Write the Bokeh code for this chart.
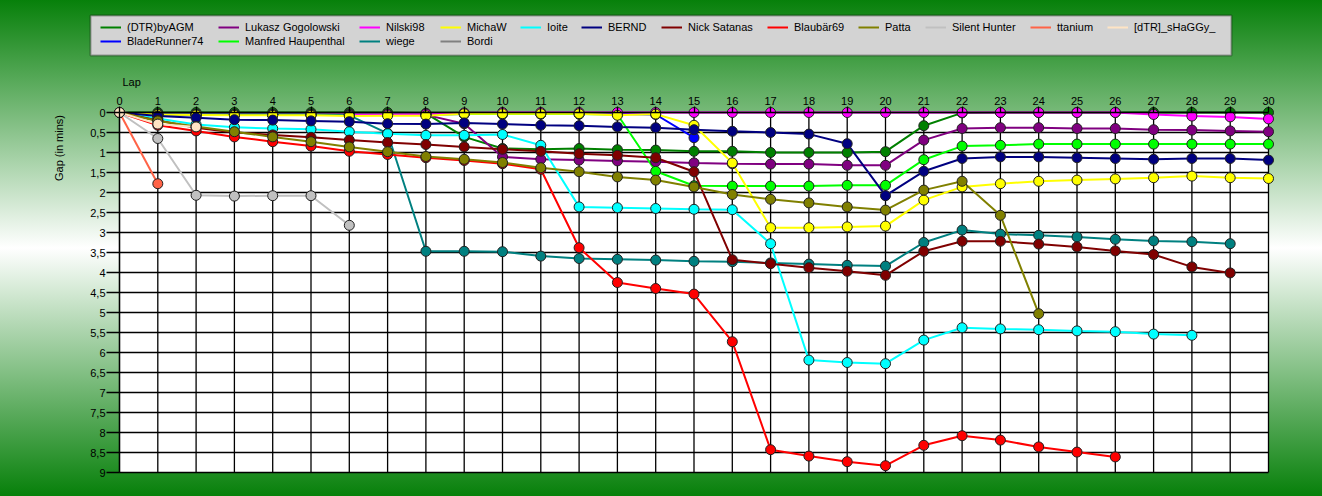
import math
from bokeh.plotting import figure
from bokeh.models import Range1d, FixedTicker, Legend, LegendItem, BoxAnnotation, Label
from bokeh.embed import file_html
from bokeh.resources import INLINE

# ---------------- data ----------------
laps = list(range(0, 31))

names = ["(DTR)byAGM", "Lukasz Gogolowski", "Nilski98", "MichaW", "Ioite", "BERND",
         "Nick Satanas", "Blaubär69", "Patta", "Silent Hunter", "ttanium", "[dTR]_sHaGGy_",
         "BladeRunner74", "Manfred Haupenthal", "wiege", "Bordi"]

colors = ["#008000", "#800080", "#ff00ff", "#ffff00", "#00ffff", "#000080",
          "#800000", "#ff0000", "#808000", "#c0c0c0", "#ff6347", "#ffe4c4",
          "#0000ff", "#00ff00", "#008080", "#808080"]

dtr_byagm = [0, 0, 0, 0, 0, 0, 0, 0, 0.02, 0.61, 0.9, 0.92, 0.9, 0.93, 0.94, 0.97,
             0.97, 1.0, 1.0, 1.0, 0.98, 0.33, 0.01, 0, 0, 0, 0, 0, 0, 0, 0]
lukasz = [0, 0.05, 0.05, 0.05, 0.05, 0.05, 0.05, 0.05, 0.06, 0.28, 1.11, 1.17, 1.19, 1.21,
          1.23, 1.26, 1.28, 1.29, 1.29, 1.32, 1.32, 0.69, 0.4, 0.38, 0.38, 0.4, 0.4, 0.43,
          0.44, 0.46, 0.48]
nilski = [0, 0.05, 0.05, 0.05, 0.05, 0.05, 0.05, 0.05, 0.04, 0.01, 0, 0, 0, 0, 0, 0, 0, 0,
          0, 0, 0, 0, 0, 0, 0, 0, 0, 0.05, 0.09, 0.11, 0.16]
michaw = [0, 0.05, 0.06, 0.07, 0.07, 0.07, 0.09, 0.08, 0.08, 0.03, 0.03, 0.03, 0.03, 0.07,
          0.04, 0.32, 1.26, 2.88, 2.88, 2.86, 2.84, 2.19, 1.86, 1.78, 1.72, 1.69, 1.66, 1.63,
          1.59, 1.63, 1.65]
ioite = [0, 0.15, 0.3, 0.37, 0.4, 0.42, 0.48, 0.53, 0.57, 0.57, 0.55, 0.82, 2.36, 2.38, 2.4,
         2.42, 2.43, 3.28, 6.19, 6.25, 6.28, 5.69, 5.38, 5.41, 5.43, 5.46, 5.48, 5.54, 5.57]
bernd = [0, 0.09, 0.13, 0.18, 0.19, 0.21, 0.23, 0.28, 0.29, 0.26, 0.29, 0.32, 0.33, 0.36,
         0.38, 0.43, 0.47, 0.5, 0.54, 0.78, 2.08, 1.47, 1.15, 1.11, 1.11, 1.13, 1.15, 1.17,
         1.15, 1.15, 1.19]
nick = [0, 0.2, 0.38, 0.5, 0.56, 0.62, 0.69, 0.75, 0.8, 0.86, 0.92, 0.97, 1.03, 1.07, 1.13,
        1.48, 3.68, 3.78, 3.88, 3.97, 4.07, 3.47, 3.22, 3.22, 3.29, 3.36, 3.46, 3.55, 3.86,
        4.01]
blaubaer = [0, 0.32, 0.46, 0.61, 0.73, 0.84, 0.97, 1.05, 1.13, 1.2, 1.28, 1.42, 3.38, 4.25,
            4.4, 4.54, 5.73, 8.43, 8.59, 8.73, 8.83, 8.32, 8.08, 8.19, 8.36, 8.49, 8.61]
patta = [0, 0.21, 0.35, 0.48, 0.61, 0.73, 0.86, 0.98, 1.1, 1.17, 1.25, 1.38, 1.48, 1.61,
         1.69, 1.86, 2.05, 2.17, 2.26, 2.36, 2.44, 1.94, 1.72, 2.57, 5.03]
silent_hunter = [0, 0.65, 2.07, 2.09, 2.08, 2.08, 2.82]
ttanium = [0, 1.78]
shaggy = [0, 0.29, 0.36]
bladerunner = [0, 0.05, 0.05, 0.05, 0.05, 0.05, 0.05, 0.05, 0.05, 0.04, 0.04, 0.04, 0.04,
               0.04, 0.05, 0.63]
manfred = [0, 0.05, 0.05, 0.05, 0.05, 0.05, 0.05, 0.05, 0.05, 0.04, 0.04, 0.04, 0.04, 0.05,
           1.47, 1.83, 1.84, 1.84, 1.84, 1.82, 1.82, 1.18, 0.84, 0.82, 0.79, 0.79, 0.79,
           0.79, 0.79, 0.79, 0.79]
wiege = [0, 0.05, 0.05, 0.05, 0.05, 0.05, 0.07, 0.52, 3.47, 3.47, 3.48, 3.59, 3.65, 3.67,
         3.69, 3.72, 3.73, 3.76, 3.79, 3.82, 3.84, 3.25, 2.94, 3.04, 3.07, 3.11, 3.17, 3.21,
         3.23, 3.28]
bordi = [0]

series = [dtr_byagm, lukasz, nilski, michaw, ioite, bernd, nick, blaubaer, patta,
          silent_hunter, ttanium, shaggy, bladerunner, manfred, wiege, bordi]

# order in which the series are painted (later ones lie on top)
draw_order = ["(DTR)byAGM", "BladeRunner74", "Lukasz Gogolowski", "Manfred Haupenthal",
              "Nilski98", "wiege", "MichaW", "Bordi", "Ioite", "BERND", "Nick Satanas",
              "Blaubär69", "Patta", "Silent Hunter", "ttanium", "[dTR]_sHaGGy_"]

x_ticks = list(range(0, 31))
y_ticks = [i * 0.5 for i in range(0, 19)]
y_tick_labels = {t: ("%g" % t).replace(".", ",") for t in y_ticks}

# ---------------- layout (pixels) ----------------
W, H = 1322, 496
X0PX, X30PX = 119, 1268        # lap 0 / lap 30
Y0PX, Y9PX = 112, 472          # gap 0 / gap 9
px_lap = (X30PX - X0PX) / 30.0
px_min = (Y9PX - Y0PX) / 9.0


def px2x(px):
    return (px - X0PX) / px_lap


def px2y(py):
    return (py - Y0PX) / px_min


FONT = "Liberation Sans"

# the frame covers the whole canvas; axes are drawn at fixed locations
p = figure(width=W, height=H,
           x_range=Range1d(px2x(0), px2x(W)), y_range=Range1d(px2y(H), px2y(0)),
           output_backend="svg", toolbar_location=None, x_axis_location="above",
           min_border=0, min_border_left=0, min_border_right=0, min_border_top=0,
           min_border_bottom=0)
p.styles = {"background": "linear-gradient(to bottom, #07800a 0%, #ffffff 50%, #07800a 100%)"}
p.background_fill_alpha = 0
p.border_fill_alpha = 0
p.outline_line_color = None
p.xgrid.visible = False
p.ygrid.visible = False

# white plotting area
p.add_layout(BoxAnnotation(left=0, right=30, top=0, bottom=9, fill_color="white",
                           fill_alpha=1, line_color=None, level="underlay"))

# grid lines within the plotting area
p.segment(x0=x_ticks, y0=0, x1=x_ticks, y1=9, line_color="black", line_width=1.3)
p.segment(x0=0, y0=y_ticks, x1=30, y1=y_ticks, line_color="black", line_width=1.3)

xa = p.xaxis[0]
ya = p.yaxis[0]
xa.fixed_location = 0
ya.fixed_location = 0
xa.bounds = (0, 30)
ya.bounds = (0, 9)
xa.ticker = FixedTicker(ticks=x_ticks)
ya.ticker = FixedTicker(ticks=y_ticks)
ya.major_label_overrides = y_tick_labels
for ax in (xa, ya):
    ax.axis_line_color = "black"
    ax.axis_line_width = 1.3
    ax.major_tick_line_color = "black"
    ax.major_tick_line_width = 1.3
    ax.minor_tick_line_color = None
    ax.major_tick_in = 0
    ax.major_label_text_font = FONT
    ax.major_label_text_font_size = "11px"
    ax.major_label_text_color = "black"
xa.major_tick_out = 6
ya.major_tick_out = 13
xa.major_label_standoff = 2
ya.major_label_standoff = 1

p.add_layout(Label(x=px2x(122), y=px2y(81), text="Lap", text_font=FONT,
                   text_font_size="11px", text_align="left", text_baseline="middle",
                   text_color="black"))
p.add_layout(Label(x=px2x(58.5), y=px2y(147.5), text="Gap (in mins)", angle=math.pi / 2,
                   text_font=FONT, text_font_size="11px", text_align="center",
                   text_baseline="middle", text_color="black"))

by_name = {n: (c, v) for n, c, v in zip(names, colors, series)}
line_renderers = {}
for name in draw_order:
    color, vals = by_name[name]
    xs = laps[:len(vals)]
    line_renderers[name] = p.line(xs, vals, line_color=color, line_width=2)
for name in draw_order:
    color, vals = by_name[name]
    xs = laps[:len(vals)]
    p.scatter(xs, vals, size=10, fill_color=color, line_color="#202020", line_width=1)

# legend: grey box, 12 columns, second row under the first four columns
p.add_layout(BoxAnnotation(left=px2x(90), right=px2x(1231), top=px2y(15), bottom=px2y(55),
                           fill_color="#d3d3d3", fill_alpha=1, line_color="black",
                           line_width=2, level="annotation"))
col_left_px = [100, 218, 359, 440, 520, 581, 661, 767, 858, 925, 1030, 1107]
ROW_H = 14
ROW1_TOP = 20
for c, left in enumerate(col_left_px):
    idx = [c] + ([12 + c] if c < 4 else [])
    items = [LegendItem(label=names[i], renderers=[line_renderers[names[i]]]) for i in idx]
    bottom_px = ROW1_TOP + ROW_H * len(idx)
    leg = Legend(items=items, orientation="vertical", location=(left, H - bottom_px),
                 spacing=0, padding=0, margin=0, glyph_width=21, glyph_height=ROW_H,
                 label_height=ROW_H, label_standoff=6, label_text_font=FONT,
                 label_text_font_size="11px", label_text_color="black",
                 background_fill_alpha=0, border_line_color=None)
    p.add_layout(leg)

open("out.html", "w").write(file_html(p, INLINE))
